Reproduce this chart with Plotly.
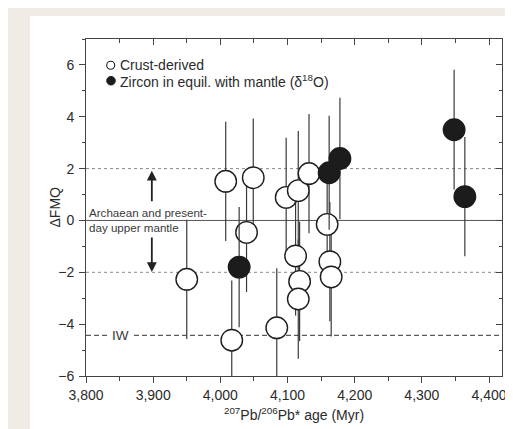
import plotly.graph_objects as go

# ---- data ----
crust_age = [3950, 4008, 4017, 4039, 4049, 4084, 4098, 4116, 4112, 4118, 4116, 4132, 4159, 4163, 4165]
crust_dfmq = [-2.27, 1.51, -4.62, -0.46, 1.65, -4.14, 0.89, 1.15, -1.37, -2.35, -3.03, 1.81, -0.15, -1.59, -2.18]
crust_err = [2.3, 2.3, 2.3, 2.3, 2.28, 2.3, 2.3, 2.3, 2.3, 2.3, 2.3, 2.3, 2.3, 2.3, 2.3]

mantle_age = [4028, 4162, 4178, 4348, 4364]
mantle_dfmq = [-1.80, 1.84, 2.39, 3.50, 0.92]
mantle_err = [2.32, 2.2, 2.34, 2.31, 2.3]

x_ticks = [3800, 3900, 4000, 4100, 4200, 4300, 4400]
y_ticks = [-6, -4, -2, 0, 2, 4, 6]

mantle_band = [-2, 2]        # Archaean and present-day upper mantle range
ref_zero = 0
iw_level = -4.43
arrow_x = 3898
arrow_up = [0.68, 1.92]
arrow_down = [-0.60, -1.99]

FONT = "Liberation Sans, Arial, sans-serif"
INK = "#2b2b2b"
AX = "#444444"
FS = 14

W, H = 513, 429
ML, MR, MT, MB = 78, 19, 31, 61
PW, PH = W - ML - MR, H - MT - MB

def px_x(p):
    return (p - ML) / PW

def px_y(p):
    return (H - MB - p) / PH

fig = go.Figure()

fig.add_trace(go.Scatter(
    x=crust_age, y=crust_dfmq, mode="markers", name="Crust-derived",
    showlegend=False,
    marker=dict(size=21.5, color="white", line=dict(color="#1e1e1e", width=1.4)),
    error_y=dict(type="data", array=crust_err, symmetric=True, color="#3a3a3a",
                 thickness=1.2, width=0),
))
fig.add_trace(go.Scatter(
    x=mantle_age, y=mantle_dfmq, mode="markers",
    name="Zircon in equil. with mantle (δ18O)", showlegend=False,
    marker=dict(size=21.5, color="#1c1c1c", line=dict(color="#1c1c1c", width=1.4)),
    error_y=dict(type="data", array=mantle_err, symmetric=True, color="#3a3a3a",
                 thickness=1.2, width=0),
))
# helper trace for the mirrored (top/right) axes
fig.add_trace(go.Scatter(x=[None], y=[None], xaxis="x2", yaxis="y2",
                         showlegend=False, hoverinfo="skip"))

shapes = []
# beige surround (outside the white page)
shapes.append(dict(type="rect", xref="paper", yref="paper",
                   x0=px_x(0), x1=px_x(22), y0=px_y(H), y1=px_y(0),
                   fillcolor="#f0ece5", line=dict(width=0), layer="below"))
shapes.append(dict(type="rect", xref="paper", yref="paper",
                   x0=px_x(0), x1=px_x(W), y0=px_y(8), y1=px_y(0),
                   fillcolor="#f0ece5", line=dict(width=0), layer="below"))
# reference lines
for lv in mantle_band:
    shapes.append(dict(type="line", xref="paper", yref="y", x0=0, x1=1, y0=lv, y1=lv,
                       line=dict(color="#8a8a8a", width=1, dash="dot"), layer="below"))
shapes.append(dict(type="line", xref="paper", yref="y", x0=0, x1=1, y0=ref_zero, y1=ref_zero,
                   line=dict(color="#555555", width=1), layer="below"))
shapes.append(dict(type="line", xref="paper", yref="y", x0=0, x1=1, y0=iw_level, y1=iw_level,
                   line=dict(color="#333333", width=1, dash="5px,3px"), layer="below"))
# legend symbols
shapes.append(dict(type="circle", xref="paper", yref="paper", xsizemode="pixel", ysizemode="pixel",
                   xanchor=px_x(102.7), yanchor=px_y(57.3), x0=-4, x1=4, y0=-4, y1=4,
                   fillcolor="white", line=dict(color="#1e1e1e", width=1.1)))
shapes.append(dict(type="circle", xref="paper", yref="paper", xsizemode="pixel", ysizemode="pixel",
                   xanchor=px_x(103), yanchor=px_y(72.7), x0=-4.3, x1=4.3, y0=-4.3, y1=4.3,
                   fillcolor="#1c1c1c", line=dict(color="#1c1c1c", width=1)))

annotations = [
    dict(xref="paper", yref="paper", x=px_x(109.5), y=px_y(57.3), xanchor="left", yanchor="middle",
         text="Crust-derived", showarrow=False, font=dict(family=FONT, size=FS, color=INK)),
    dict(xref="paper", yref="paper", x=px_x(109.5), y=px_y(72.7), xanchor="left", yanchor="middle",
         text="Zircon in equil. with mantle (δ<sup>18</sup>O)", showarrow=False,
         font=dict(family=FONT, size=FS, color=INK)),
    dict(xref="paper", yref="y", x=px_x(79), y=ref_zero, xanchor="left", yanchor="middle",
         text="Archaean and present-<br>day upper mantle", align="left", showarrow=False,
         font=dict(family=FONT, size=11.6, color="#3a3a3a")),
    dict(xref="paper", yref="y", x=px_x(112.5), y=iw_level, xanchor="center", yanchor="middle",
         text="IW", showarrow=False, bgcolor="white", borderpad=2,
         font=dict(family=FONT, size=13.5, color="#3a3a3a")),
    dict(xref="paper", yref="paper", x=px_x(46), y=px_y(199.5), xanchor="center", yanchor="middle",
         text="ΔFMQ", textangle=-90, showarrow=False,
         font=dict(family=FONT, size=FS, color=INK)),
    dict(x=arrow_x, y=arrow_up[1], ax=arrow_x, ay=arrow_up[0], xref="x", yref="y",
         axref="x", ayref="y", text="", showarrow=True, arrowhead=2, arrowsize=1.1,
         arrowwidth=1.8, arrowcolor="#222222", standoff=0),
    dict(x=arrow_x, y=arrow_down[1], ax=arrow_x, ay=arrow_down[0], xref="x", yref="y",
         axref="x", ayref="y", text="", showarrow=True, arrowhead=2, arrowsize=1.1,
         arrowwidth=1.8, arrowcolor="#222222", standoff=0),
]

x_range = [3800, 4419.3]
y_range = [-6, 7.0]

fig.update_layout(
    width=W, height=H,
    margin=dict(l=ML, r=MR, t=MT, b=MB, pad=0),
    paper_bgcolor="white", plot_bgcolor="white",
    showlegend=False,
    font=dict(family=FONT, size=FS, color=INK),
    shapes=shapes, annotations=annotations,
    xaxis=dict(range=x_range, tickvals=x_ticks, tickformat=",d", showgrid=False, zeroline=False,
               showline=True, linecolor=AX, linewidth=1, mirror=True,
               ticks="outside", ticklen=6, tickwidth=1, tickcolor=AX,
               minor=dict(dtick=50, tick0=3800, ticks="outside", ticklen=3.5, tickcolor=AX, showgrid=False),
               tickfont=dict(family=FONT, size=FS, color=INK),
               title=dict(text="<sup>207</sup>Pb/<sup>206</sup>Pb* age (Myr)", standoff=8,
                          font=dict(family=FONT, size=FS, color=INK))),
    yaxis=dict(range=y_range, tickvals=y_ticks, showgrid=False, zeroline=False,
               showline=True, linecolor=AX, linewidth=1, mirror=True,
               ticks="outside", ticklen=6, tickwidth=1, tickcolor=AX, ticklabelstandoff=2,
               minor=dict(dtick=1, tick0=0, ticks="outside", ticklen=3.5, tickcolor=AX, showgrid=False),
               tickfont=dict(family=FONT, size=FS, color=INK)),
    xaxis2=dict(range=x_range, overlaying="x", side="top", anchor="y", tickvals=x_ticks,
                showticklabels=False, showgrid=False, zeroline=False, showline=False,
                ticks="inside", ticklen=6, tickwidth=1, tickcolor=AX,
                minor=dict(dtick=50, tick0=3800, ticks="inside", ticklen=3.5, tickcolor=AX, showgrid=False)),
    yaxis2=dict(range=y_range, overlaying="y", side="right", anchor="x", tickvals=y_ticks,
                showticklabels=False, showgrid=False, zeroline=False, showline=False,
                ticks="inside", ticklen=6, tickwidth=1, tickcolor=AX,
                minor=dict(dtick=1, tick0=0, ticks="inside", ticklen=3.5, tickcolor=AX, showgrid=False)),
)

fig.write_html("out.html")
